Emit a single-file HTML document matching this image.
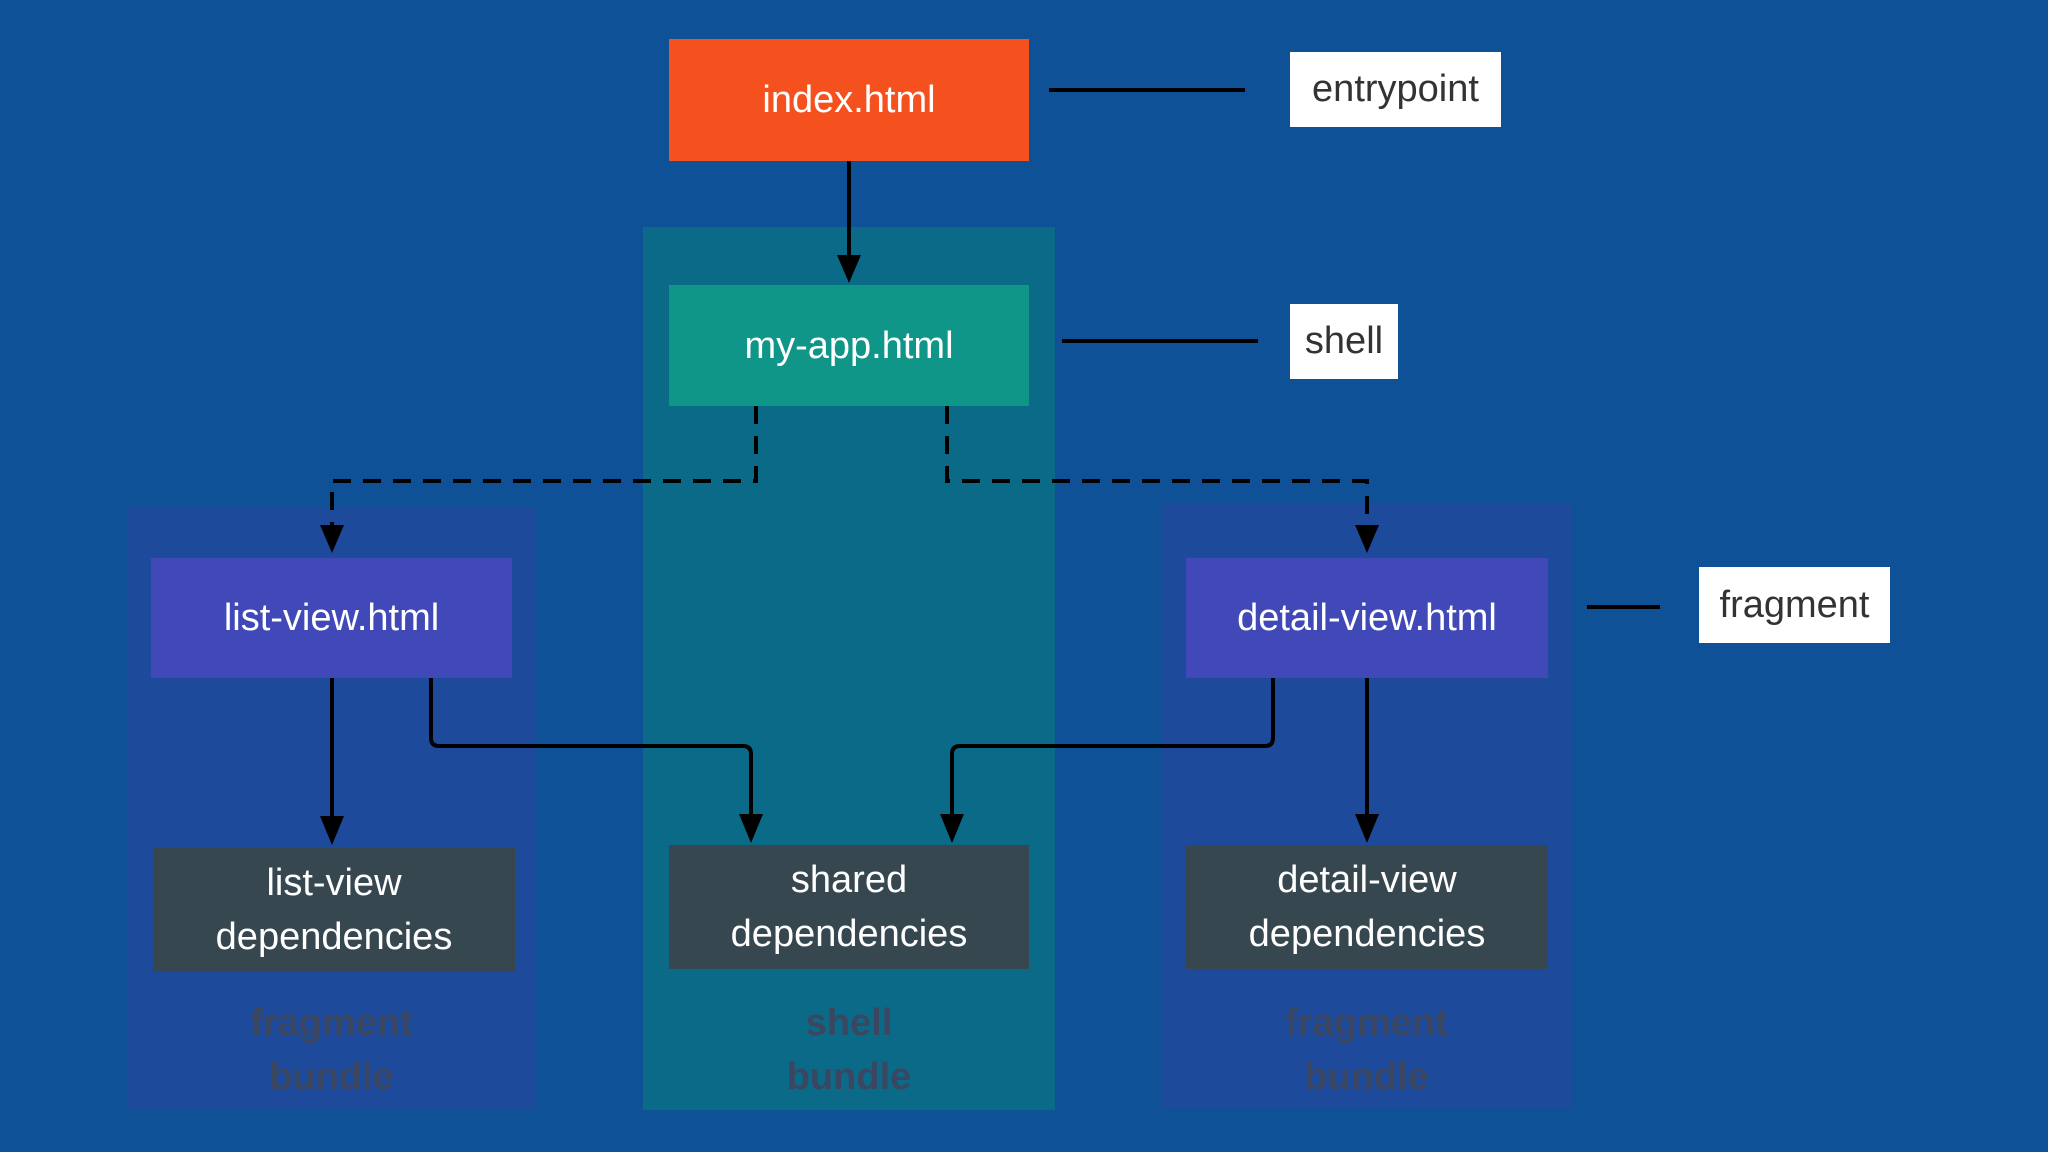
<!DOCTYPE html>
<html><head><style>
html,body{margin:0;padding:0;}
body{width:2048px;height:1152px;background:#0f5197;position:relative;overflow:hidden;font-family:"Liberation Sans",sans-serif;}
.b{position:absolute;display:flex;align-items:center;justify-content:center;text-align:center;color:#fff;font-size:38px;line-height:54px;}
.c{position:absolute;}
.lbl{position:absolute;background:#fff;color:#333;font-size:38px;display:flex;align-items:center;justify-content:center;}
.bt{position:absolute;color:#3b4660;font-size:38px;font-weight:bold;text-align:center;line-height:54px;}
svg{position:absolute;left:0;top:0;}
</style></head><body>
<div class="c" style="left:643px;top:227px;width:412px;height:883px;background:#0b6a88;"></div>
<div class="c" style="left:128px;top:507px;width:407px;height:603px;background:#1e4a9c;"></div>
<div class="c" style="left:1162px;top:503px;width:409px;height:605px;background:#1e4a9c;"></div>

<div class="b" style="left:669px;top:39px;width:360px;height:122px;background:#f4511e;">index.html</div>
<div class="b" style="left:669px;top:285px;width:360px;height:121px;background:#0f9688;">my-app.html</div>
<div class="b" style="left:151px;top:558px;width:361px;height:120px;background:#4149b8;">list-view.html</div>
<div class="b" style="left:1186px;top:558px;width:362px;height:120px;background:#4149b8;">detail-view.html</div>
<div class="b" style="left:153px;top:848px;width:362px;height:124px;background:#37474f;">list-view<br>dependencies</div>
<div class="b" style="left:669px;top:845px;width:360px;height:124px;background:#37474f;">shared<br>dependencies</div>
<div class="b" style="left:1186px;top:845px;width:362px;height:124px;background:#37474f;">detail-view<br>dependencies</div>

<div class="lbl" style="left:1290px;top:52px;width:211px;height:75px;">entrypoint</div>
<div class="lbl" style="left:1290px;top:304px;width:108px;height:75px;">shell</div>
<div class="lbl" style="left:1699px;top:567px;width:191px;height:76px;">fragment</div>

<div class="bt" style="left:128px;top:996px;width:407px;">fragment<br>bundle</div>
<div class="bt" style="left:643px;top:996px;width:412px;">shell<br>bundle</div>
<div class="bt" style="left:1162px;top:996px;width:409px;">fragment<br>bundle</div>

<svg width="2048" height="1152">
<defs><marker id="a" markerWidth="8" markerHeight="8" refX="4" refY="7" orient="auto" markerUnits="userSpaceOnUse" viewBox="0 0 8 8"><path d="M0,0 L8,0 L4,8 z" fill="#000"/></marker></defs>
<g stroke="#000" stroke-width="4" fill="none">
<line x1="1049" y1="90" x2="1245" y2="90"/>
<line x1="1062" y1="341" x2="1258" y2="341"/>
<line x1="1587" y1="607" x2="1660" y2="607"/>
<line x1="849" y1="161" x2="849" y2="260"/>
<g stroke-dasharray="18,12">
<path d="M756 406 V481 H332 V530"/>
<path d="M947 406 V481 H1367 V530"/>
</g>
<line x1="332" y1="678" x2="332" y2="820"/>
<line x1="1367" y1="678" x2="1367" y2="818"/>
<path d="M431 678 V738 Q431 746 439 746 H743 Q751 746 751 754 V818"/>
<path d="M1273 678 V738 Q1273 746 1265 746 H960 Q952 746 952 754 V818"/>
</g>
<g fill="#000">
<path d="M837 255 L861 255 L849 283 z"/>
<path d="M320 525 L344 525 L332 553 z"/>
<path d="M1355 525 L1379 525 L1367 553 z"/>
<path d="M320 816 L344 816 L332 845 z"/>
<path d="M739 814 L763 814 L751 843 z"/>
<path d="M940 814 L964 814 L952 843 z"/>
<path d="M1355 814 L1379 814 L1367 843 z"/>
</g>
</svg>
</body></html>
